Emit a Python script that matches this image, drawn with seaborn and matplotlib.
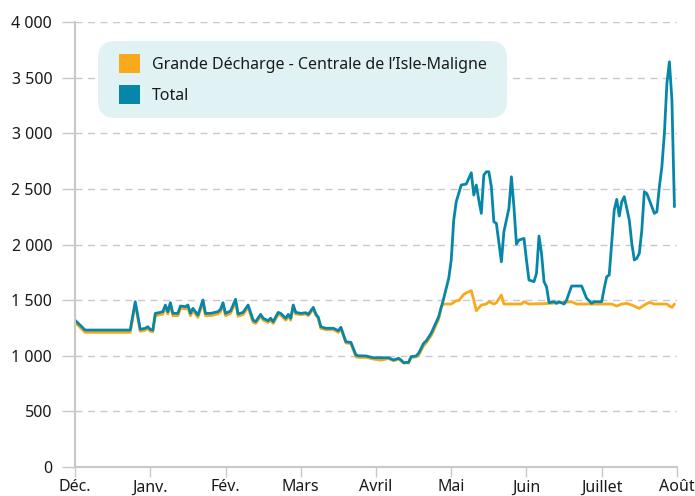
import pandas as pd
import matplotlib
matplotlib.use("Agg")
import matplotlib.pyplot as plt
from matplotlib.patches import Patch, FancyBboxPatch
import seaborn as sns

# day index from 1 Dec (months drawn as 30-day blocks)
total_day = [0, 4, 22, 24, 26, 28, 29, 30, 31, 32, 34, 35, 36, 37, 38, 39, 41, 42, 44, 45,
             46, 47, 49, 51, 52, 54, 57, 58, 59, 60, 62, 64, 65, 67, 69, 71, 72, 74, 75, 77,
             78, 79, 81, 82, 84, 85, 86, 87, 88, 90, 92, 93, 95, 96, 97, 98, 100, 103, 105, 106,
             108, 110, 112, 113, 116, 119, 125, 127, 129, 130, 131, 133, 134, 136, 137, 139, 140, 142, 145, 147,
             149, 150, 151, 152, 154, 156, 157, 158, 159, 160, 161, 162, 163, 164, 165, 166, 167, 168, 170, 171,
             173, 174, 175, 176, 177, 179, 180, 181, 183, 184, 185, 186, 187, 188, 189, 191, 192, 193, 195, 196,
             198, 202, 204, 206, 207, 210, 211, 212, 213, 215, 216, 217, 218, 219, 221, 222, 223, 224, 225, 226,
             227, 228, 229, 231, 232, 233, 234, 235, 236, 237, 238, 239]
total_val = [1320, 1231, 1231, 1486, 1237, 1247, 1261, 1237, 1231, 1381, 1390, 1396, 1456, 1396, 1477, 1381, 1381, 1447, 1441, 1456,
             1381, 1426, 1366, 1501, 1381, 1381, 1396, 1417, 1477, 1381, 1402, 1507, 1375, 1390, 1456, 1321, 1306, 1372, 1337, 1315,
             1337, 1306, 1390, 1381, 1337, 1372, 1337, 1456, 1390, 1381, 1387, 1372, 1435, 1375, 1346, 1261, 1247, 1247, 1225, 1256,
             1126, 1120, 1007, 1000, 998, 982, 982, 962, 977, 962, 938, 941, 992, 998, 1022, 1112, 1133, 1202, 1351, 1516,
             1696, 1861, 2220, 2385, 2535, 2544, 2595, 2645, 2445, 2535, 2400, 2280, 2625, 2654, 2654, 2520, 2205, 2190, 1845, 2115,
             2325, 2609, 2339, 2004, 2040, 2055, 1861, 1681, 1666, 1741, 2076, 1921, 1666, 1621, 1477, 1486, 1471, 1486, 1465, 1501,
             1627, 1627, 1516, 1471, 1486, 1486, 1606, 1711, 1726, 2310, 2406, 2256, 2385, 2430, 2220, 2011, 1861, 1876, 1921, 2130,
             2475, 2458, 2400, 2280, 2295, 2520, 2700, 3000, 3449, 3643, 3299, 2340]

gd_day = [0, 4, 22, 24, 26, 28, 29, 30, 31, 32, 34, 35, 36, 37, 38, 39, 41, 42, 44, 45,
          46, 47, 49, 51, 52, 54, 57, 58, 59, 60, 62, 64, 65, 67, 69, 71, 72, 74, 75, 77,
          78, 79, 81, 82, 84, 85, 86, 87, 88, 90, 92, 93, 95, 96, 97, 98, 100, 103, 105, 106,
          108, 110, 112, 113, 116, 119, 122, 125, 127, 129, 130, 131, 133, 134, 136, 137, 139, 140, 142, 145,
          146, 147, 150, 152, 153, 155, 157, 158, 159, 160, 162, 164, 165, 167, 168, 170, 171, 174, 178, 179,
          181, 189, 195, 198, 200, 214, 216, 218, 220, 222, 225, 227, 229, 231, 236, 237, 238, 239]
gd_val = [1300, 1210, 1210, 1465, 1220, 1230, 1245, 1220, 1215, 1360, 1370, 1375, 1435, 1375, 1455, 1360, 1360, 1425, 1420, 1435,
          1360, 1405, 1345, 1480, 1360, 1360, 1375, 1395, 1455, 1360, 1380, 1485, 1355, 1370, 1435, 1300, 1290, 1355, 1320, 1300,
          1320, 1290, 1370, 1365, 1320, 1355, 1320, 1440, 1375, 1370, 1375, 1360, 1420, 1365, 1335, 1245, 1235, 1235, 1210, 1245,
          1115, 1110, 990, 985, 985, 970, 960, 975, 955, 970, 955, 935, 935, 985, 990, 1005, 1090, 1115, 1180, 1330,
          1441, 1465, 1465, 1495, 1495, 1552, 1576, 1585, 1501, 1405, 1456, 1465, 1486, 1465, 1477, 1546, 1465, 1465, 1465, 1486,
          1465, 1470, 1480, 1486, 1465, 1465, 1447, 1465, 1471, 1456, 1426, 1456, 1480, 1465, 1465, 1447, 1435, 1465]

month_labels = ["Déc.", "Janv.", "Fév.", "Mars", "Avril", "Mai", "Juin", "Juillet", "Août"]
y_ticks = [0, 500, 1000, 1500, 2000, 2500, 3000, 3500, 4000]

ORANGE = "#F9AA1C"
TEAL = "#0686A8"
GREY = "#C8C8C8"

sns.set_style("white")
plt.rcParams["font.family"] = ["Noto Sans", "DejaVu Sans"]

df_total = pd.DataFrame({"jour": total_day, "debit": total_val})
df_gd = pd.DataFrame({"jour": gd_day, "debit": gd_val})

W, H = 695, 496
fig = plt.figure(figsize=(W / 100, H / 100), dpi=100)
ax = fig.add_axes([0.108, 0.0585, 0.866, 0.897])

ax.yaxis.grid(True, color=GREY, linestyle=(0, (5, 4)), linewidth=1)
ax.set_axisbelow(True)

sns.lineplot(data=df_gd, x="jour", y="debit", color=ORANGE, linewidth=2, ax=ax)
sns.lineplot(data=df_total, x="jour", y="debit", color=TEAL, linewidth=2, ax=ax)

ax.set_xlim(0, 240)
ax.set_ylim(0, 4000)
ax.set_xticks([i * 30 for i in range(len(month_labels))])
ax.set_xticklabels(month_labels)
ax.set_yticks(y_ticks)
ax.set_yticklabels([f"{v:,}".replace(",", " ") for v in y_ticks])
ax.set_xlabel("")
ax.set_ylabel("")

for side in ["top", "right"]:
    ax.spines[side].set_visible(False)
for side in ["left", "bottom"]:
    ax.spines[side].set_color(GREY)
    ax.spines[side].set_linewidth(1.5)

ax.tick_params(axis="y", length=9.5, width=1, color=GREY, labelsize=11.5, labelcolor="#1a1a1a", pad=7, left=True)
ax.tick_params(axis="x", length=7, width=1, color=GREY, labelsize=11.5, labelcolor="#1a1a1a", pad=2, bottom=True)

# rounded legend background, drawn in figure pixels
box = FancyBboxPatch((98 / W, 1 - 118 / H), 409 / W, 77 / H,
                     boxstyle="round,pad=0,rounding_size=0.025",
                     transform=fig.transFigure, facecolor="#E0F2F4", edgecolor="none",
                     mutation_aspect=W / H, zorder=0)
fig.patches.append(box)

handles = [Patch(facecolor=ORANGE, edgecolor="none", label="Grande Décharge - Centrale de l’Isle-Maligne"),
           Patch(facecolor=TEAL, edgecolor="none", label="Total")]
leg = fig.legend(handles=handles, loc="upper left", bbox_to_anchor=(119 / W, 1 - 54 / H),
                 fontsize=11.5, frameon=False, handlelength=1.3, handleheight=1.45,
                 handletextpad=0.75, labelspacing=0.75, borderpad=0, borderaxespad=0)
for t in leg.get_texts():
    t.set_color("#1a1a1a")

fig.savefig("out.png", dpi=100)
